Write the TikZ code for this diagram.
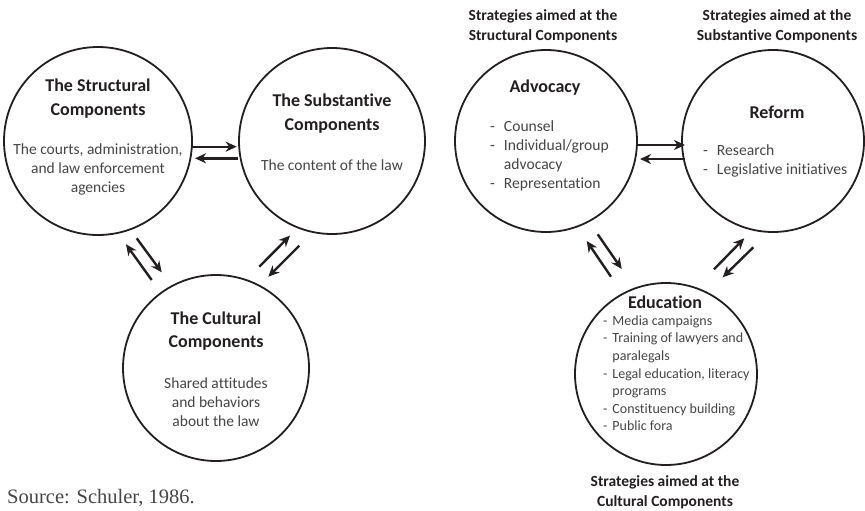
\documentclass[tikz,border=0pt]{standalone}
\usepackage{fontspec}
\setmainfont{Carlito}[Ligatures=NoCommon]
\newfontfamily\srcfont{Liberation Serif}
\usetikzlibrary{arrows.meta,calc}
\definecolor{ink}{HTML}{231F20}
\definecolor{bodytext}{HTML}{454545}
\begin{document}
\begin{tikzpicture}[x=1pt,y=-1pt,
  comp/.style={circle,draw=ink,line width=1.8pt,inner sep=0pt,minimum size=#1},
  comp/.default=188pt,
  title/.style={inner sep=0pt,align=center,text=ink,font=\fontsize{18}{23.5}\selectfont\bfseries},
  body/.style={inner sep=0pt,align=center,text=bodytext,font=\fontsize{15.5}{19}\selectfont},
  items/.style={inner sep=0pt,text=bodytext,font=\fontsize{15.6}{19}\selectfont},
  smallitems/.style={inner sep=0pt,text=bodytext,font=\fontsize{14}{17.6}\selectfont},
  caption/.style={inner sep=0pt,align=center,text=ink,font=\fontsize{15.5}{20}\selectfont\bfseries},
  flow/.style={draw=ink,line width=2.4pt,-{Stealth[length=11pt,width=10pt,inset=3.5pt]}}]
\useasboundingbox (0,0) rectangle (865,511);

% --- the three components of the legal system ---
\node[comp] (s) at (98,141) {};
\node[comp=186pt] (t) at (332,141) {};
\node[comp=186pt] (c) at (216,368) {};

\node[title] (sT) at (98,98.5) {The Structural\\Components};
\node[body] (sB) at (98,169) {The courts, administration,\\and law enforcement\\agencies};
\node[title] (tT) at (332,113.5) {The Substantive\\Components};
\node[body] (tB) at (332,165) {The content of the law};
\node[title] (cT) at (216,331) {The Cultural\\Components};
\node[body] (cB) at (216,402) {Shared attitudes\\and behaviors\\about the law};

\draw[flow] ($(s)+(93.7,5.7)$) -- ($(t)+(-95.3,5.7)$);
\draw[flow] ($(t)+(-94,17.3)$) -- ($(s)+(97,17.3)$);
\draw[flow] ($(s)+(38.7,97.3)$) -- ($(c)+(-54.3,-95.7)$);
\draw[flow] ($(c)+(-64.3,-88)$) -- ($(s)+(28,103.3)$);
\draw[flow] ($(c)+(43.3,-101.3)$) -- ($(t)+(-42,94.7)$);
\draw[flow] ($(t)+(-32.7,104.7)$) -- ($(c)+(52.3,-91.3)$);

% --- the matching strategies ---
\node[comp=182pt] (a) at (546,141) {};
\node[comp=182pt] (f) at (773,141) {};
\node[comp=182pt] (e) at (666,374) {};

\node[caption] (aC) at (543,26) {Strategies aimed at the\\Structural Components};
\node[caption] (fC) at (777,26) {Strategies aimed at the\\Substantive Components};
\node[caption] (eC) at (665,492.5) {Strategies aimed at the\\Cultural Components};

\node[title] (aT) at (545,88) {Advocacy};
\node[items,anchor=west] (aL) at (490,156.5) {%
  \begin{tabular}{@{}l@{\hspace{9pt}}l@{}}
  - & Counsel\\
  - & Individual/group\\
    & advocacy\\
  - & Representation
  \end{tabular}};
\node[title] (fT) at (777,112) {Reform};
\node[items,anchor=west] (fL) at (703,161) {%
  \begin{tabular}{@{}l@{\hspace{9pt}}l@{}}
  - & Research\\
  - & Legislative initiatives
  \end{tabular}};
\node[title] (eT) at (665,302) {Education};
\node[smallitems,anchor=west] (eL) at (603,374.5) {%
  \begin{tabular}{@{}l@{\hspace{5pt}}l@{}}
  - & Media campaigns\\
  - & Training of lawyers and\\
    & paralegals\\
  - & Legal education, literacy\\
    & programs\\
  - & Constituency building\\
  - & Public fora
  \end{tabular}};

\draw[flow] ($(a)+(92,4)$) -- ($(f)+(-88,4)$);
\draw[flow] ($(f)+(-88,18)$) -- ($(a)+(94,18)$);
\draw[flow] ($(a)+(51.7,93.3)$) -- ($(e)+(-44.3,-105)$);
\draw[flow] ($(e)+(-55,-97.3)$) -- ($(a)+(40.7,100)$);
\draw[flow] ($(e)+(48,-104.7)$) -- ($(f)+(-28.7,97.3)$);
\draw[flow] ($(f)+(-19.7,106.3)$) -- ($(e)+(56.7,-96.7)$);

\node[inner sep=0pt,anchor=west,text=bodytext,font=\srcfont\fontsize{20.5}{22}\selectfont] (src) at (7,498) {Source: Schuler, 1986.};
\end{tikzpicture}
\end{document}
